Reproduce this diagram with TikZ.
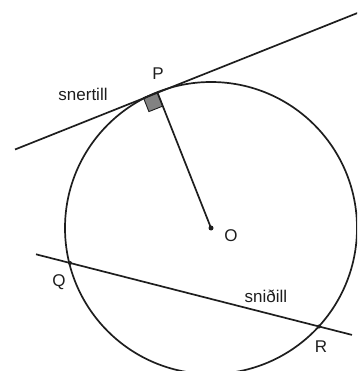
\documentclass[tikz,border=0pt]{standalone}
\usepackage{fontspec}
\setmainfont{Liberation Sans}
\usepackage{xcolor}
\usetikzlibrary{positioning}
\definecolor{inkdark}{RGB}{30,30,30}
\definecolor{boxgray}{RGB}{130,130,130}

\begin{document}
\begin{tikzpicture}[
    x=1pt,y=-1pt,
    line/.style={draw=inkdark,line width=1.7pt},
    lbl/.style={font=\fontsize{17}{19}\selectfont,text=inkdark,inner sep=0pt},
    pt/.style={circle,fill=inkdark,inner sep=0pt,minimum size=5pt}
  ]
    \useasboundingbox (0,0) rectangle (357,371);
    \clip (0,0) rectangle (357,371);

    \coordinate (O) at (211,228);
    \coordinate (P) at (157.3,92.2);
    \coordinate (Q) at (70,263);
    \coordinate (R) at (319,326.5);
    \coordinate (tl) at (15,149.5);
    \coordinate (tr) at (365,10);
    \coordinate (sl) at (36,254.3);
    \coordinate (sr) at (352,334.9);

    % right angle at P
    \fill[boxgray,draw=inkdark,line width=0.9pt] (P) -- (143.4,97.7) -- (148.9,111.6) -- (162.8,106.1) -- cycle;

    \draw[line] (O) circle[radius=146];
    \draw[line] (tl) -- (tr);
    \draw[line] (sl) -- (sr);
    \draw[line] (P) -- (O);

    \node[pt] (dotO) at (O) {};
    \node[pt,minimum size=4pt] (dotQ) at (Q) {};
    \node[pt,minimum size=4pt] (dotR) at (R) {};

    \node[lbl] (labP) at (158,74) {P};
    \node[lbl] (tangent) at (83,94) {snertill};
    \node[lbl] (labO) at (231,236) {O};
    \node[lbl] (labQ) at (59,282) {Q};
    \node[lbl] (secant) at (266,296) {sniðill};
    \node[lbl] (labR) at (321,347) {R};
  \end{tikzpicture}
\end{document}
